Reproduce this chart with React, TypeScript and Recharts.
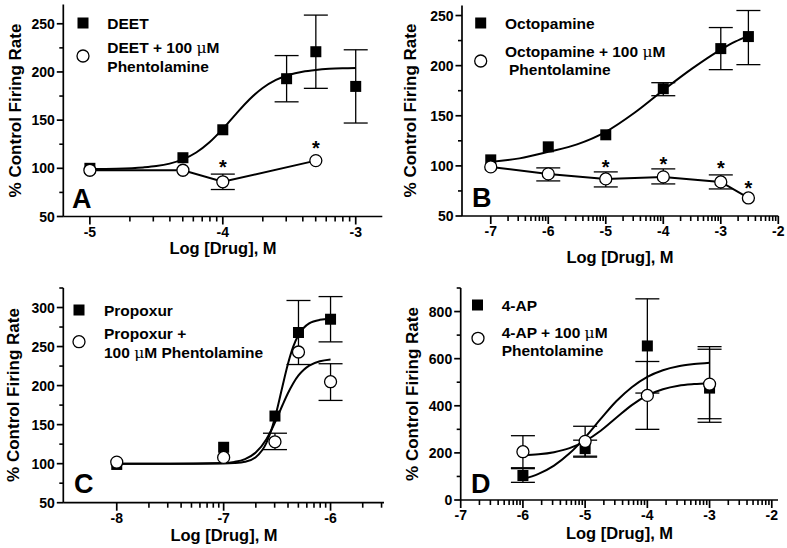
import React from 'react';
import { ComposedChart, Line, Scatter, XAxis, YAxis, ErrorBar } from 'recharts';

const FONT = '"Liberation Sans", Arial, Helvetica, sans-serif';

// ---- Panel A: DEET ----
const aX = [-5, -4.3, -4, -3.52, -3.3, -3];
const aY = [100, 111, 140, 193, 221, 185];
const aLo = [null, null, null, 169, 183, 147];
const aHi = [null, null, null, 217, 259, 223];
const aPhX = [-5, -4.3, -4, -3.3];
const aPhY = [98, 98, 86, 108];
const aPhLo = [null, null, 78, null];
const aPhHi = [null, null, 94, null];
const aFitX = [-5, -4.8, -4.6, -4.5, -4.4, -4.3, -4.2, -4.1, -4, -3.9, -3.8, -3.7, -3.6, -3.5, -3.4, -3.3, -3.2, -3.1, -3];
const aFitY = [99.2, 99.6, 100.9, 102.3, 104.9, 109.3, 116.4, 127, 140.9, 156.5, 171.4, 183.3, 191.7, 197.1, 200.3, 202.1, 203.2, 203.8, 204.1];
const aStarX = [-4, -3.3];
const aStarY = [105.5, 125];
const aXTicks = [-5, -4, -3];
const aYTicks = [50, 100, 150, 200, 250];

// ---- Panel B: Octopamine ----
const bX = [-7, -6, -5, -4, -3, -2.52];
const bY = [106, 119, 131, 177, 217, 229];
const bLo = [null, null, null, 170, 196, 201];
const bHi = [null, null, null, 183, 238, 255];
const bPhX = [-7, -6, -5, -4, -3, -2.52];
const bPhY = [99, 92, 87, 89, 84, 68];
const bPhLo = [null, 85, 79, 82, 77, null];
const bPhHi = [null, 98, 94, 97, 91, null];
const bFitX = [-7, -6.5, -6, -5.5, -5, -4.5, -4, -3.5, -3, -2.75, -2.52];
const bFitY = [104, 107.5, 114, 121.5, 134, 153, 175.5, 197, 216, 224, 229.5];
const bStarX = [-5, -4, -3, -2.52];
const bStarY = [103, 106, 102, 82];
const bXTicks = [-7, -6, -5, -4, -3, -2];
const bYTicks = [50, 100, 150, 200, 250];

// ---- Panel C: Propoxur ----
const cX = [-8, -7, -6.52, -6.3, -6];
const cY = [99, 121, 161, 268, 285];
const cLo = [null, null, null, 227, 256];
const cHi = [null, null, null, 309, 314];
const cPhX = [-8, -7, -6.52, -6.3, -6];
const cPhY = [102, 108, 128, 243, 205];
const cPhLo = [null, null, 118, null, 181];
const cPhHi = [null, null, 139, null, 228];
const cFitX = [-8, -7.5, -7, -6.9, -6.8, -6.7, -6.6, -6.55, -6.5, -6.45, -6.4, -6.35, -6.3, -6.25, -6.2, -6.1, -6];
const cFitY = [100, 100, 100.2, 100.7, 102.4, 108.2, 126.6, 144.7, 169.7, 198.9, 227, 249.5, 264.7, 274.1, 279.6, 284.2, 285.5];
const cPhFitY = [100, 100, 100.9, 102.3, 105.9, 114.2, 131.3, 144, 159, 174.8, 189.9, 202.8, 213, 220.3, 225.5, 231.1, 233.5];
const cXTicks = [-8, -7, -6];
const cYTicks = [50, 100, 150, 200, 250, 300];

// ---- Panel D: 4-AP ----
const dX = [-6, -5, -4, -3];
const dY = [104, 218, 654, 475];
const dLo = [75, 182, 454, 330];
const dHi = [133, 254, 854, 651];
const dPhX = [-6, -5, -4, -3];
const dPhY = [205, 249, 444, 492];
const dPhLo = [137, 186, 300, 345];
const dPhHi = [273, 313, 588, 640];
const dFitX = [-6, -5.75, -5.5, -5.25, -5, -4.75, -4.5, -4.25, -4, -3.75, -3.5, -3.25, -3];
const dFitY = [89, 111, 146, 198, 266, 344, 419, 479, 523, 551, 568, 577, 583];
const dPhFitY = [190, 194, 203, 220, 250, 294, 349, 403, 444, 470, 485, 492, 496];
const dXTicks = [-7, -6, -5, -4, -3, -2];
const dYTicks = [0, 200, 400, 600, 800];

const pts = (xs: number[], ys: number[], lo?: (number | null)[], hi?: (number | null)[]) =>
  xs.map((x, i) => {
    const p: any = { x, y: ys[i] };
    if (lo && hi && lo[i] != null) p.err = [ys[i] - (lo[i] as number), (hi[i] as number) - ys[i]];
    return p;
  });

const LOG_STEPS = [2, 3, 4, 5, 6, 7, 8, 9].map((k) => Math.log10(k));

// major tick + the log minor ticks of the decade that follows it
const XTick = (props: any) => {
  const { x, y, payload, ppd, xEnd } = props;
  return (
    <g>
      <line x1={x} y1={y} x2={x} y2={y + 8} stroke="#000" strokeWidth={1.7} />
      {LOG_STEPS.filter((s) => x + s * ppd <= xEnd + 0.5).map((s) => (
        <line key={s} x1={x + s * ppd} y1={y} x2={x + s * ppd} y2={y + 5} stroke="#000" strokeWidth={1.6} />
      ))}
      <text x={x} y={y + 20} textAnchor="middle" fontSize={14} fontWeight="bold" fontFamily={FONT} fill="#000">
        {String(payload.value)}
      </text>
    </g>
  );
};

// major tick + a half-step minor tick above it
const YTick = (props: any) => {
  const { x, y, payload, halfPx, yTop } = props;
  return (
    <g>
      <line x1={x} y1={y} x2={x - 6.5} y2={y} stroke="#000" strokeWidth={1.7} />
      {y - halfPx >= yTop - 0.5 && (
        <line x1={x} y1={y - halfPx} x2={x - 4} y2={y - halfPx} stroke="#000" strokeWidth={1.6} />
      )}
      <text x={x - 8.5} y={y + 5} textAnchor="end" fontSize={14} fontWeight="bold" fontFamily={FONT} fill="#000">
        {String(payload.value)}
      </text>
    </g>
  );
};

const SquareShape = (p: any) => <rect x={p.cx - 5.5} y={p.cy - 5.5} width={11} height={11} fill="#000" />;
const CircleShape = (p: any) => <circle cx={p.cx} cy={p.cy} r={6} fill="#fff" stroke="#000" strokeWidth={1.3} />;
const StarShape = (p: any) => (
  <text x={p.cx} y={p.cy + 11} textAnchor="middle" fontSize={20} fontWeight="bold" fontFamily={FONT} fill="#000">*</text>
);

function Panel({ box, plot, xDomain, yDomain, xMajor, yMajor, fits, links, squares, circles, stars }: any) {
  const ppd = (plot.x1 - plot.x0) / (xDomain[1] - xDomain[0]);
  const yStep = yMajor[1] - yMajor[0];
  const halfPx = ((yStep / 2) * (plot.y1 - plot.y0)) / (yDomain[1] - yDomain[0]);
  return (
    <div style={{ position: 'absolute', left: box.left, top: box.top }}>
      <ComposedChart
        width={box.w}
        height={box.h}
        margin={{ top: plot.y0 - box.top, right: box.left + box.w - plot.x1, bottom: 0, left: 0 }}
      >
        <XAxis
          dataKey="x"
          type="number"
          domain={xDomain}
          ticks={xMajor}
          interval={0}
          allowDataOverflow
          height={box.top + box.h - plot.y1}
          tickSize={0}
          tickMargin={0}
          tickLine={false}
          axisLine={{ stroke: '#000', strokeWidth: 1.7 }}
          tick={(p: any) => <XTick {...p} ppd={ppd} xEnd={plot.x1 - box.left} />}
        />
        <XAxis xAxisId="top" orientation="top" type="number" domain={xDomain} allowDataOverflow height={0}
          tick={false} tickLine={false} axisLine={{ stroke: '#808080', strokeWidth: 1 }} />
        <YAxis
          dataKey="y"
          type="number"
          domain={yDomain}
          ticks={yMajor}
          interval={0}
          allowDataOverflow
          width={plot.x0 - box.left}
          tickSize={0}
          tickMargin={0}
          tickLine={false}
          axisLine={{ stroke: '#000', strokeWidth: 1.7 }}
          tick={(p: any) => <YTick {...p} halfPx={halfPx} yTop={plot.y0 - box.top} />}
        />
        <YAxis yAxisId="right" orientation="right" type="number" domain={yDomain} allowDataOverflow width={0}
          tick={false} tickLine={false} axisLine={{ stroke: '#808080', strokeWidth: 1 }} />
        {fits.map((f: any, i: number) => (
          <Line key={'f' + i} data={f} dataKey="y" type="monotone" stroke="#000" strokeWidth={2} dot={false} isAnimationActive={false} />
        ))}
        {links.map((f: any, i: number) => (
          <Line key={'l' + i} data={f} dataKey="y" type="linear" stroke="#000" strokeWidth={2} dot={false} isAnimationActive={false} />
        ))}
        <Scatter data={squares} dataKey="y" shape={SquareShape} isAnimationActive={false}>
          <ErrorBar dataKey="err" direction="y" width={12} stroke="#000" strokeWidth={1.3} />
        </Scatter>
        <Scatter data={circles} dataKey="y" shape={CircleShape} isAnimationActive={false}>
          <ErrorBar dataKey="err" direction="y" width={12} stroke="#000" strokeWidth={1.3} />
        </Scatter>
        {stars && <Scatter data={stars} dataKey="y" shape={StarShape} isAnimationActive={false} />}
      </ComposedChart>
    </div>
  );
}

const txt = { fontFamily: FONT, fontWeight: 'bold' as const, fill: '#000' };
const mu = <tspan fontWeight="normal" fontFamily='"DejaVu Serif", serif'>μ</tspan>;

export default function App() {
  return (
    <div style={{ position: 'absolute', left: 0, top: 0, width: 787, height: 548, background: '#fff', overflow: 'hidden' }}>
      <Panel
        box={{ left: 0, top: 0, w: 390, h: 265 }}
        plot={{ x0: 63.3, x1: 382.3, y0: 4.5, y1: 216.5 }}
        xDomain={[-5.2, -2.8]}
        yDomain={[50, 270]}
        xMajor={aXTicks}
        yMajor={aYTicks}
        fits={[pts(aFitX, aFitY)]}
        links={[pts(aPhX, aPhY)]}
        squares={pts(aX, aY, aLo, aHi)}
        circles={pts(aPhX, aPhY, aPhLo, aPhHi)}
        stars={pts(aStarX, aStarY)}
      />
      <Panel
        box={{ left: 390, top: 0, w: 397, h: 265 }}
        plot={{ x0: 462, x1: 778.3, y0: 5.5, y1: 216 }}
        xDomain={[-7.5, -2]}
        yDomain={[50, 260]}
        xMajor={bXTicks}
        yMajor={bYTicks}
        fits={[pts(bFitX, bFitY)]}
        links={[pts(bPhX, bPhY)]}
        squares={pts(bX, bY, bLo, bHi)}
        circles={pts(bPhX, bPhY, bPhLo, bPhHi)}
        stars={pts(bStarX, bStarY)}
      />
      <Panel
        box={{ left: 0, top: 275, w: 390, h: 273 }}
        plot={{ x0: 63.3, x1: 384, y0: 288, y1: 502.7 }}
        xDomain={[-8.5, -5.5]}
        yDomain={[50, 325]}
        xMajor={cXTicks}
        yMajor={cYTicks}
        fits={[pts(cFitX, cFitY), pts(cFitX, cPhFitY)]}
        links={[]}
        squares={pts(cX, cY, cLo, cHi)}
        circles={pts(cPhX, cPhY, cPhLo, cPhHi)}
        stars={null}
      />
      <Panel
        box={{ left: 390, top: 275, w: 397, h: 273 }}
        plot={{ x0: 460.7, x1: 778, y0: 288, y1: 500 }}
        xDomain={[-7, -1.9]}
        yDomain={[0, 900]}
        xMajor={dXTicks}
        yMajor={dYTicks}
        fits={[pts(dFitX, dFitY), pts(dFitX, dPhFitY)]}
        links={[]}
        squares={pts(dX, dY, dLo, dHi)}
        circles={pts(dPhX, dPhY, dPhLo, dPhHi)}
        stars={null}
      />
      <svg width={787} height={548} style={{ position: 'absolute', left: 0, top: 0, pointerEvents: 'none' }}>
        {/* axis titles */}
        <text {...txt} fontSize={17} textAnchor="middle" dominantBaseline="central" transform="translate(15,110.5) rotate(-90)">% Control Firing Rate</text>
        <text {...txt} fontSize={17} textAnchor="middle" dominantBaseline="central" transform="translate(410.8,110.5) rotate(-90)">% Control Firing Rate</text>
        <text {...txt} fontSize={17} textAnchor="middle" dominantBaseline="central" transform="translate(13.5,395) rotate(-90)">% Control Firing Rate</text>
        <text {...txt} fontSize={17} textAnchor="middle" dominantBaseline="central" transform="translate(412,394) rotate(-90)">% Control Firing Rate</text>
        <text {...txt} fontSize={16.5} textAnchor="middle" x={223} y={254}>Log [Drug], M</text>
        <text {...txt} fontSize={16.5} textAnchor="middle" x={620} y={262.5}>Log [Drug], M</text>
        <text {...txt} fontSize={16.5} textAnchor="middle" x={224} y={541}>Log [Drug], M</text>
        <text {...txt} fontSize={16.5} textAnchor="middle" x={619.5} y={539}>Log [Drug], M</text>

        {/* panel letters */}
        <text {...txt} fontSize={27} x={72} y={208}>A</text>
        <text {...txt} fontSize={27} x={472} y={207}>B</text>
        <text {...txt} fontSize={27} x={74} y={493}>C</text>
        <text {...txt} fontSize={27} x={471} y={493}>D</text>

        {/* legend A */}
        <rect x={77.5} y={17.5} width={11} height={11} fill="#000" />
        <circle cx={83} cy={56} r={6} fill="#fff" stroke="#000" strokeWidth={1.3} />
        <text {...txt} fontSize={15.5} x={107.3} y={28.5}>DEET</text>
        <text {...txt} fontSize={15.5} x={107.3} y={53.3}>DEET + 100 {mu}M</text>
        <text {...txt} fontSize={15.5} x={107.3} y={72}>Phentolamine</text>

        {/* legend B */}
        <rect x={475.2} y={17.5} width={11} height={11} fill="#000" />
        <circle cx={480.7} cy={61} r={6} fill="#fff" stroke="#000" strokeWidth={1.3} />
        <text {...txt} fontSize={15.5} x={505} y={28.5}>Octopamine</text>
        <text {...txt} fontSize={15.5} x={505} y={56.7}>Octopamine + 100 {mu}M</text>
        <text {...txt} fontSize={15.5} x={509} y={75}>Phentolamine</text>

        {/* legend C */}
        <rect x={73.5} y={304.5} width={11} height={11} fill="#000" />
        <circle cx={79} cy={341.7} r={6} fill="#fff" stroke="#000" strokeWidth={1.3} />
        <text {...txt} fontSize={15.5} x={104} y={316}>Propoxur</text>
        <text {...txt} fontSize={15.5} x={104} y={339}>Propoxur +</text>
        <text {...txt} fontSize={15.5} x={104} y={358.3}>100 {mu}M Phentolamine</text>

        {/* legend D */}
        <rect x={472} y={299.5} width={11} height={11} fill="#000" />
        <circle cx={478} cy={338.3} r={6} fill="#fff" stroke="#000" strokeWidth={1.3} />
        <text {...txt} fontSize={15.5} x={501.7} y={310.5}>4-AP</text>
        <text {...txt} fontSize={15.5} x={501.7} y={338}>4-AP + 100 {mu}M</text>
        <text {...txt} fontSize={15.5} x={501.7} y={355.5}>Phentolamine</text>
      </svg>
    </div>
  );
}
